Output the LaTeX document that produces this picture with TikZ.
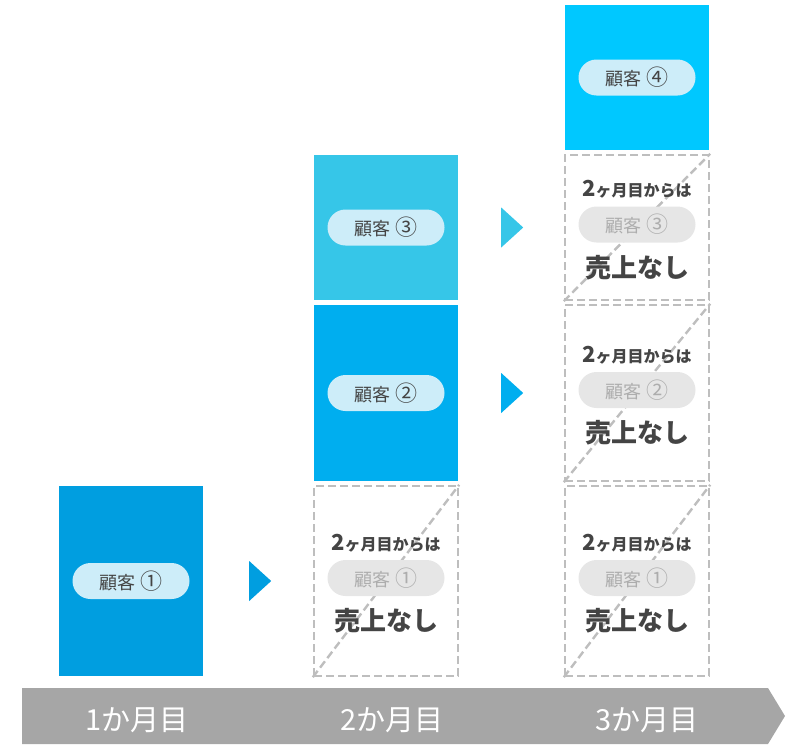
\documentclass[tikz,border=0pt]{standalone}
\usepackage{fontspec}
\setmainfont{Noto Sans CJK JP}
\usetikzlibrary{positioning,calc}

\definecolor{blueA}{HTML}{009EE0}
\definecolor{blueB}{HTML}{00AEEF}
\definecolor{blueC}{HTML}{36C6E8}
\definecolor{blueD}{HTML}{00C8FF}
\definecolor{pillfill}{HTML}{CDEDF9}
\definecolor{greyfill}{HTML}{E6E6E6}
\definecolor{greytext}{HTML}{ADADAD}
\definecolor{dashgrey}{HTML}{BEBEBE}
\definecolor{barfill}{HTML}{A6A6A6}
\definecolor{darktext}{HTML}{444444}

\newcommand{\circnum}[1]{{\fontsize{22}{22}\selectfont #1}}

\begin{document}
\begin{tikzpicture}[x=1pt, y=-1pt,
    blk/.style = {rectangle, inner sep=0pt, minimum width=144pt},
    nosale/.style = {blk, draw=dashgrey, line width=2.4pt, dash pattern=on 8pt off 4pt},
    pill/.style = {rectangle, rounded corners=18pt, fill=pillfill, text=darktext,
                   minimum width=117pt, minimum height=36pt, inner sep=0pt,
                   font=\fontsize{18}{18}\selectfont},
    greypill/.style = {pill, fill=greyfill, text=greytext},
    head/.style = {text=darktext, inner sep=0pt, font=\bfseries\fontsize{16}{16}\selectfont},
    nosales/.style = {text=darktext, inner sep=0pt, font=\bfseries\fontsize{26}{26}\selectfont},
    month/.style = {text=white, inner sep=0pt, font=\fontsize{29}{29}\selectfont}]
    \useasboundingbox (0,0) rectangle (797,744);

    % month 1
    \node[blk, fill=blueA, minimum height=190pt] (m1a) at (131,581) {};
    % month 2
    \node[nosale, minimum height=190pt] (m2a) at (386,581) {};
    \node[blk, fill=blueB, minimum height=176pt] (m2b) at (386,393) {};
    \node[blk, fill=blueC, minimum height=145pt] (m2c) at (386,227.5) {};
    % month 3
    \node[nosale, minimum height=190pt] (m3a) at (637,581) {};
    \node[nosale, minimum height=176pt] (m3b) at (637,393) {};
    \node[nosale, minimum height=145pt] (m3c) at (637,227.5) {};
    \node[blk, fill=blueD, minimum height=145pt] (m3d) at (637,77.5) {};

    % customers
    \node[pill] (p1) at (m1a) {顧客 \circnum{①}};
    \node[pill] (p2) at (m2b) {顧客 \circnum{②}};
    \node[pill] (p3) at (m2c) {顧客 \circnum{③}};
    \node[pill] (p4) at (m3d) {顧客 \circnum{④}};

    % boxes with no sales
    \foreach \b/\n in {m2a/①, m3a/①, m3b/②, m3c/③} {
        \draw[dashgrey, line width=2.4pt, dash pattern=on 8pt off 4pt]
            (\b.south west) -- (\b.north east);
        \node[greypill] (\b-p) at ($(\b.center)+(0,-3)$) {顧客 \circnum{\n}};
        \node[head] (\b-h) at ($(\b-p)+(0,-35)$) {{\fontsize{22}{22}\selectfont 2}ヶ月目からは};
        \node[nosales] (\b-s) at ($(\b-p)+(0,43)$) {売上なし};
    }

    % arrows
    \fill[blueA] ($(m1a.east)+(46,-20)$) -- ++(22,20) -- ++(-22,20) -- cycle;
    \fill[blueB] ($(m2b.east)+(43,-20)$) -- ++(22,20) -- ++(-22,20) -- cycle;
    \fill[blueC] ($(m2c.east)+(43,-20)$) -- ++(22,20) -- ++(-22,20) -- cycle;

    % time line
    \fill[barfill] (22,688) -- (768,688) -- (785,716) -- (768,744) -- (22,744) -- cycle;
    \node[month] (t1) at (137,720) {1か月目};
    \node[month] (t2) at (392,720) {2か月目};
    \node[month] (t3) at (647,720) {3か月目};
\end{tikzpicture}
\end{document}
